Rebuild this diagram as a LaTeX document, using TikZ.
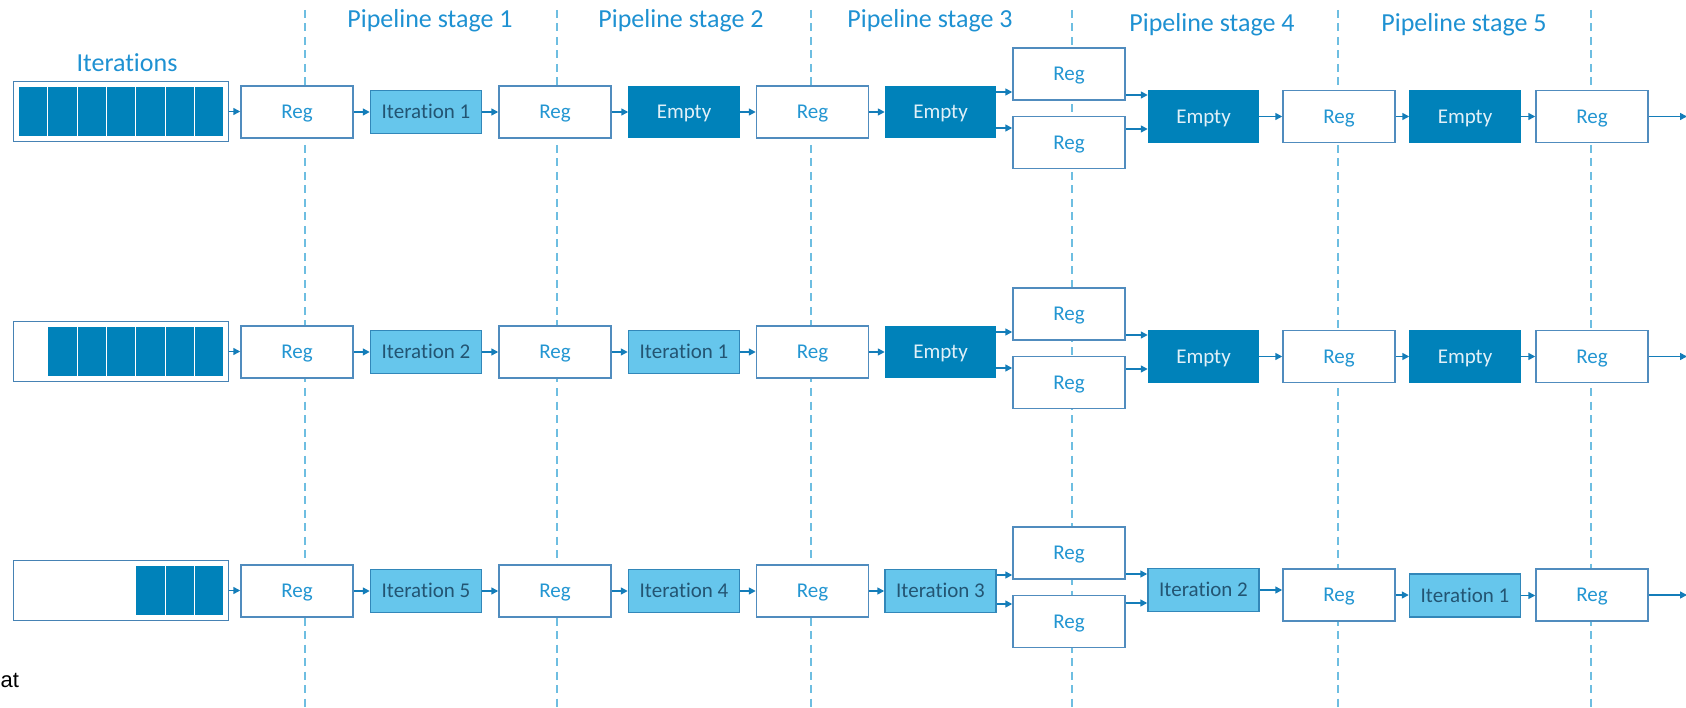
\documentclass[tikz,border=0pt]{standalone}
\usepackage{fontspec}
\setmainfont{Carlito}[Ligatures={NoCommon}]
\newfontfamily\notefont{Liberation Sans}
\usetikzlibrary{arrows.meta}

\definecolor{idlefill}{RGB}{0,130,186}
\definecolor{busyfill}{RGB}{102,198,236}
\definecolor{busyline}{RGB}{50,135,185}
\definecolor{busytext}{RGB}{35,85,115}
\definecolor{idletext}{RGB}{225,240,248}
\definecolor{regline}{RGB}{80,140,190}
\definecolor{regtext}{RGB}{35,150,210}
\definecolor{flowc}{RGB}{20,125,185}
\definecolor{guide}{RGB}{110,190,225}
\definecolor{headc}{RGB}{30,145,210}
\definecolor{queueline}{RGB}{70,130,180}

\tikzset{
  box/.style={inner sep=0pt, line width=1.5pt, font=\fontsize{21}{25}\selectfont,
    text height=13.5pt, text depth=0pt},
  reg/.style={box, draw=regline, fill=white, text=regtext, minimum width=112pt, minimum height=52pt},
  busy/.style={box, draw=busyline, fill=busyfill, text=busytext, minimum width=111pt, minimum height=43pt},
  idle/.style={box, draw=idlefill, fill=idlefill, text=idletext, minimum width=110pt, minimum height=51pt},
  queue/.style={draw=queueline, line width=1.5pt, fill=white, minimum width=215pt, minimum height=60pt, inner sep=0pt},
  cell/.style={fill=idlefill, draw=white, line width=1pt},
  flow/.style={draw=flowc, line width=1.5pt, -{Triangle[length=7pt,width=7pt]}},
  guideline/.style={draw=guide, line width=2pt, dash pattern=on 8pt off 5.5pt},
  stagehead/.style={anchor=base, text=headc, font=\fontsize{26}{30}\selectfont},
}

\begin{document}
\begin{tikzpicture}[x=1pt,y=-1pt]
\useasboundingbox (0,0) rectangle (1686,708);
\clip (0,0) rectangle (1686,708);

% stage boundaries
\foreach \x in {305,557,811,1072,1338,1591}
  \draw[guideline] (\x,10) -- (\x,708);

% headings
\node[stagehead] (h1) at (430,28) {Pipeline stage 1};
\node[stagehead] (h2) at (681,28) {Pipeline stage 2};
\node[stagehead] (h3) at (930,28) {Pipeline stage 3};
\node[stagehead] (h4) at (1212,32) {Pipeline stage 4};
\node[stagehead] (h5) at (1464,32) {Pipeline stage 5};
\node[stagehead] (hq) at (127,72) {Iterations};

% ---------- first clock cycle ----------
\node[queue] (q1) at (121.1,111.5) {};
\foreach \k in {1,...,7}
  \path[cell] ({18.6+(\k-1)*29.29},86.5) rectangle ({18.6+\k*29.29},136.5);
\node[reg]  (a0)  at (297,112)     {Reg};
\node[busy] (a1)  at (426,112)     {Iteration 1};
\node[reg]  (a2)  at (555,112)     {Reg};
\node[idle] (a3)  at (684,112)     {Empty};
\node[reg]  (a4)  at (812.5,112)   {Reg};
\node[idle] (a5)  at (940.5,112)   {Empty};
\node[reg]  (a6)  at (1069,74)     {Reg};
\node[reg]  (a7)  at (1069,142.5)  {Reg};
\node[idle] (a8)  at (1203.5,116.5) {Empty};
\node[reg]  (a9)  at (1339,116.5)  {Reg};
\node[idle] (a10) at (1465,116.5)  {Empty};
\node[reg]  (a11) at (1592,116.5)  {Reg};
\coordinate (aout) at (1687,116.5);

\draw[flow] (q1.east) -- (a0.west |- q1.east);
\draw[flow] (a0.east) -- (a1.west);
\draw[flow] (a1.east) -- (a2.west);
\draw[flow] (a2.east) -- (a3.west);
\draw[flow] (a3.east) -- (a4.west);
\draw[flow] (a4.east) -- (a5.west);
\path ([yshift=20pt]a5.east) coordinate (as1) ([yshift=-16pt]a5.east) coordinate (as2);
\draw[flow] (as1) -- (a6.west |- as1);
\draw[flow] (as2) -- (a7.west |- as2);
\path ([yshift=-21pt]a6.east) coordinate (at1) ([yshift=13.5pt]a7.east) coordinate (at2);
\draw[flow] (at1) -- (a8.west |- at1);
\draw[flow] (at2) -- (a8.west |- at2);
\draw[flow] (a8.east) -- (a9.west);
\draw[flow] (a9.east) -- (a10.west);
\draw[flow] (a10.east) -- (a11.west);
\draw[flow] (a11.east) -- (aout);

% ---------- second clock cycle ----------
\node[queue] (q2) at (121.1,351.5) {};
\foreach \k in {2,...,7}
  \path[cell] ({18.6+(\k-1)*29.29},326.5) rectangle ({18.6+\k*29.29},376.5);
\node[reg]  (b0)  at (297,352)     {Reg};
\node[busy] (b1)  at (426,352)     {Iteration 2};
\node[reg]  (b2)  at (555,352)     {Reg};
\node[busy] (b3)  at (684,352)     {Iteration 1};
\node[reg]  (b4)  at (812.5,352)   {Reg};
\node[idle] (b5)  at (940.5,352)   {Empty};
\node[reg]  (b6)  at (1069,314)    {Reg};
\node[reg]  (b7)  at (1069,382.5)  {Reg};
\node[idle] (b8)  at (1203.5,356.5) {Empty};
\node[reg]  (b9)  at (1339,356.5)  {Reg};
\node[idle] (b10) at (1465,356.5)  {Empty};
\node[reg]  (b11) at (1592,356.5)  {Reg};
\coordinate (bout) at (1687,356.5);

\draw[flow] (q2.east) -- (b0.west |- q2.east);
\draw[flow] (b0.east) -- (b1.west);
\draw[flow] (b1.east) -- (b2.west);
\draw[flow] (b2.east) -- (b3.west);
\draw[flow] (b3.east) -- (b4.west);
\draw[flow] (b4.east) -- (b5.west);
\path ([yshift=20pt]b5.east) coordinate (bs1) ([yshift=-16pt]b5.east) coordinate (bs2);
\draw[flow] (bs1) -- (b6.west |- bs1);
\draw[flow] (bs2) -- (b7.west |- bs2);
\path ([yshift=-21pt]b6.east) coordinate (bt1) ([yshift=13.5pt]b7.east) coordinate (bt2);
\draw[flow] (bt1) -- (b8.west |- bt1);
\draw[flow] (bt2) -- (b8.west |- bt2);
\draw[flow] (b8.east) -- (b9.west);
\draw[flow] (b9.east) -- (b10.west);
\draw[flow] (b10.east) -- (b11.west);
\draw[flow] (b11.east) -- (bout);

% ---------- fifth clock cycle ----------
\node[queue] (q3) at (121.1,590.5) {};
\foreach \k in {5,...,7}
  \path[cell] ({18.6+(\k-1)*29.29},565.5) rectangle ({18.6+\k*29.29},615.5);
\node[reg]  (c0)  at (297,591)     {Reg};
\node[busy] (c1)  at (426,591)     {Iteration 5};
\node[reg]  (c2)  at (555,591)     {Reg};
\node[busy] (c3)  at (684,591)     {Iteration 4};
\node[reg]  (c4)  at (812.5,591)   {Reg};
\node[busy] (c5)  at (940.5,591)   {Iteration 3};
\node[reg]  (c6)  at (1069,553)    {Reg};
\node[reg]  (c7)  at (1069,621.5)  {Reg};
\node[busy] (c8)  at (1203.5,590)  {Iteration 2};
\node[reg]  (c9)  at (1339,595)    {Reg};
\node[busy] (c10) at (1465,595.5)  {Iteration 1};
\node[reg]  (c11) at (1592,595)    {Reg};
\coordinate (cout) at (1687,595);

\draw[flow] (q3.east) -- (c0.west |- q3.east);
\draw[flow] (c0.east) -- (c1.west);
\draw[flow] (c1.east) -- (c2.west);
\draw[flow] (c2.east) -- (c3.west);
\draw[flow] (c3.east) -- (c4.west);
\draw[flow] (c4.east) -- (c5.west);
\path ([yshift=16pt]c5.east) coordinate (cs1) ([yshift=-13pt]c5.east) coordinate (cs2);
\draw[flow] (cs1) -- (c6.west |- cs1);
\draw[flow] (cs2) -- (c7.west |- cs2);
\path ([yshift=-21pt]c6.east) coordinate (ct1) ([yshift=18.5pt]c7.east) coordinate (ct2);
\draw[flow] (ct1) -- (c8.west |- ct1);
\draw[flow] (ct2) -- (c8.west |- ct2);
\draw[flow] (c8.east) -- (c9.west |- c8.east);
\draw[flow] (c9.east) -- (c10.west |- c9.east);
\draw[flow] (c10.east) -- (c11.west |- c10.east);
\draw[flow] (c11.east) -- (cout);

% trailing word at the lower left edge
\node[anchor=base west, inner sep=0pt, font=\notefont\fontsize{22}{26}\selectfont] (note) at (0.5,687) {at};
\end{tikzpicture}
\end{document}
